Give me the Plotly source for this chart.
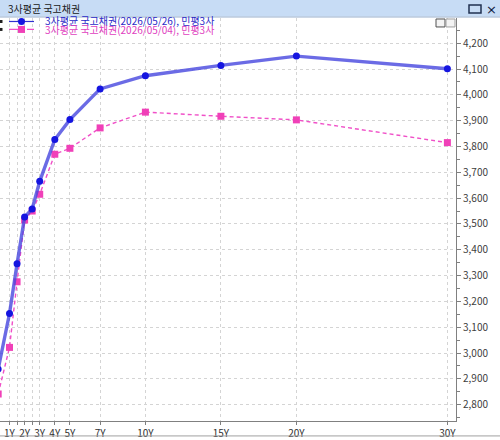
import plotly.graph_objects as go

tenors = [0.25, 1, 1.5, 2, 2.5, 3, 4, 5, 7, 10, 15, 20, 30]
blue_vals = [2.938, 3.153, 3.346, 3.527, 3.558, 3.665, 3.827, 3.904, 4.023, 4.074, 4.114, 4.150, 4.101]
pink_vals = [2.842, 3.022, 3.276, 3.515, 3.550, 3.615, 3.770, 3.793, 3.872, 3.933, 3.917, 3.903, 3.815]
blue_name = "3사평균 국고채권(2026/05/26), 민평3사"
pink_name = "3사평균 국고채권(2026/05/04), 민평3사"
x_tickvals = [1, 1.5, 2, 2.5, 3, 4, 5, 7, 10, 15, 20, 30]
x_ticktext = ["1Y", "", "2Y", "", "3Y", "4Y", "5Y", "7Y", "10Y", "15Y", "20Y", "30Y"]
y_tickvals = [2.8, 2.9, 3.0, 3.1, 3.2, 3.3, 3.4, 3.5, 3.6, 3.7, 3.8, 3.9, 4.0, 4.1, 4.2]
y_ticktext = ["2,800", "2,900", "3,000", "3,100", "3,200", "3,300", "3,400", "3,500",
              "3,600", "3,700", "3,800", "3,900", "4,000", "4,100", "4,200"]
window_title = "3사평균 국고채권"

FONT = "Noto Sans CJK KR"
BLUE_LINE = "rgba(70,70,222,0.8)"
BLUE_MARK = "#1515e0"
BLUE_TEXT = "#2a2ac8"
PINK_LINE = "#f050c8"
PINK_MARK = "#f040b8"
PINK_TEXT = "#e040c0"

fig = go.Figure()
fig.add_trace(go.Scatter(
    x=tenors, y=pink_vals, mode="lines+markers", name=pink_name, showlegend=False,
    line=dict(color=PINK_LINE, width=1.4, dash="4px,3px"),
    marker=dict(symbol="square", size=7, color=PINK_MARK),
))
fig.add_trace(go.Scatter(
    x=tenors, y=blue_vals, mode="lines+markers", name=blue_name, showlegend=False,
    line=dict(color=BLUE_LINE, width=3.4),
    marker=dict(symbol="circle", size=7, color=BLUE_MARK),
))

L, R, T, B = 0, 44, 18, 17
W = 500 - L - R
H = 440 - T - B


def px(x):
    return (x - L) / W


def py(y):
    return (440 - B - y) / H


shapes = [
    # window title bar
    dict(type="rect", xref="paper", yref="paper", x0=px(0), x1=px(500), y0=py(16.5), y1=py(0),
         fillcolor="#c7dcf5", line=dict(width=0), layer="above"),
    dict(type="line", xref="paper", yref="paper", x0=px(0), x1=px(500), y0=py(17), y1=py(17),
         line=dict(color="#9ab0cc", width=1), layer="above"),
    # bottom strip
    dict(type="line", xref="paper", yref="paper", x0=px(0), x1=px(500), y0=py(438), y1=py(438),
         line=dict(color="#a0a0a0", width=1)),
    # window icons
    dict(type="rect", xref="paper", yref="paper", x0=px(469), x1=px(481),
         y0=py(13), y1=py(5), line=dict(color="#203050", width=1.5), fillcolor="rgba(0,0,0,0)",
         layer="above"),
    dict(type="rect", xref="paper", yref="paper", x0=px(436), x1=px(445),
         y0=py(27), y1=py(19), line=dict(color="#505050", width=1), fillcolor="#f4f4f4"),
    dict(type="rect", xref="paper", yref="paper", x0=px(446), x1=px(455),
         y0=py(27), y1=py(19), line=dict(color="#a0a0a0", width=1), fillcolor="#f4f4f4"),
    # legend box markers
    dict(type="rect", xref="paper", yref="paper", x0=px(0), x1=px(2.5),
         y0=py(23), y1=py(20), line=dict(width=0), fillcolor="#202020"),
    dict(type="rect", xref="paper", yref="paper", x0=px(0), x1=px(2.5),
         y0=py(31), y1=py(28), line=dict(width=0), fillcolor="#202020"),
    # legend symbols
    dict(type="line", xref="paper", yref="paper", x0=px(9), x1=px(34), y0=py(21.5), y1=py(21.5),
         line=dict(color="#3030d0", width=1.2)),
    dict(type="circle", xref="paper", yref="paper", xsizemode="pixel", ysizemode="pixel",
         xanchor=px(21.5), yanchor=py(21.5), x0=-3.5, x1=3.5, y0=-3.5, y1=3.5,
         fillcolor=BLUE_MARK, line=dict(width=0)),
    dict(type="line", xref="paper", yref="paper", x0=px(9), x1=px(34), y0=py(29.5), y1=py(29.5),
         line=dict(color=PINK_LINE, width=1.2, dash="dash")),
    dict(type="rect", xref="paper", yref="paper", xsizemode="pixel", ysizemode="pixel",
         xanchor=px(21.5), yanchor=py(29.5), x0=-3.5, x1=3.5, y0=-3.5, y1=3.5,
         fillcolor=PINK_MARK, line=dict(width=0)),
]

annotations = [
    dict(text=window_title, xref="paper", yref="paper", x=px(6), y=py(8.5),
         xanchor="left", yanchor="middle", showarrow=False,
         font=dict(family=FONT, size=10, color="#202020")),
    dict(text="×", xref="paper", yref="paper", x=px(491), y=py(9),
         xanchor="center", yanchor="middle", showarrow=False,
         font=dict(family="DejaVu Sans", size=13, color="#102040")),
    dict(text=blue_name, xref="paper", yref="paper", x=px(43), y=py(21),
         xanchor="left", yanchor="middle", showarrow=False,
         font=dict(family=FONT, size=10, color=BLUE_TEXT)),
    dict(text=pink_name, xref="paper", yref="paper", x=px(43), y=py(30),
         xanchor="left", yanchor="middle", showarrow=False,
         font=dict(family=FONT, size=10, color=PINK_TEXT)),
]

fig.update_layout(
    width=500, height=440,
    margin=dict(l=L, r=R, t=T, b=B, pad=0),
    paper_bgcolor="white", plot_bgcolor="white",
    font=dict(family=FONT, size=10, color="#303030"),
    showlegend=False,
    xaxis=dict(range=[0.37, 30.57], tickvals=x_tickvals, ticktext=x_ticktext,
               showgrid=True, gridcolor="#d4d4d4", griddash="dot", gridwidth=1,
               zeroline=False, showline=True, linecolor="#808080", linewidth=1,
               ticks="outside", ticklen=3, tickcolor="#808080",
               tickfont=dict(family=FONT, size=10, color="#303030")),
    yaxis=dict(range=[2.737, 4.2975], side="right", tickvals=y_tickvals, ticktext=y_ticktext,
               showgrid=True, gridcolor="#d4d4d4", griddash="dot", gridwidth=1,
               zeroline=False, showline=True, linecolor="#808080", linewidth=1,
               ticks="outside", ticklen=4, tickcolor="#808080",
               minor=dict(dtick=0.05, ticks="outside", ticklen=3, tickcolor="#808080", showgrid=False),
               tickfont=dict(family=FONT, size=10, color="#404040")),
    shapes=shapes,
    annotations=annotations,
)

fig.write_html("out.html", config={"displayModeBar": False},
               post_script="document.body.style.margin='0';document.body.style.padding='0';")
